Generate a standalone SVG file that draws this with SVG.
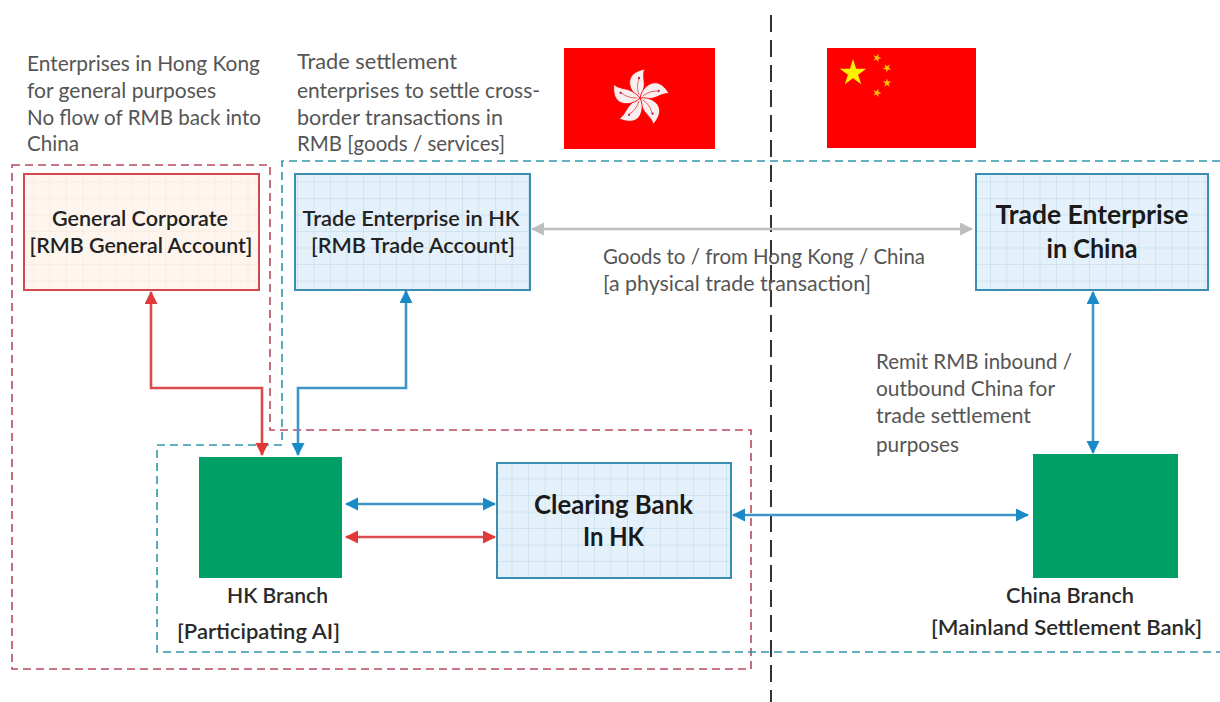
<svg xmlns="http://www.w3.org/2000/svg" width="1220" height="702" viewBox="0 0 1220 702">
<style>
text{font-family:"Lato","Open Sans","Liberation Sans",sans-serif;lengthAdjust:spacingAndGlyphs}
.n{font-size:20.5px;fill:#555}
.b{font-size:20.5px;fill:#2a2a2a;font-weight:600}
.bm{font-size:20.5px;fill:#222;font-weight:600;text-anchor:middle}
.h{font-size:26px;fill:#1a1a1a;font-weight:700;text-anchor:middle}
.dr{fill:none;stroke:#b94a5c;stroke-width:1.6;stroke-dasharray:8 5}
.db{fill:none;stroke:#2f97ad;stroke-width:1.6;stroke-dasharray:8 5}
.cb{fill:none;stroke:#3f96c8;stroke-width:2.6;marker-start:url(#ab);marker-end:url(#ab)}
.cr{fill:none;stroke:#d94b4d;stroke-width:2.6;marker-start:url(#ar);marker-end:url(#ar)}
.cg{fill:none;stroke:#bdbdbd;stroke-width:2.4;marker-start:url(#ag);marker-end:url(#ag)}
.gb{fill:url(#gridB);stroke:#3a8fb0;stroke-width:2}
.green{fill:#009f66}
</style>
<defs>
<pattern id="gridB" width="16.5" height="16.5" patternUnits="userSpaceOnUse">
<rect width="16.5" height="16.5" fill="#e4f1fa"/>
<path d="M0 0H16.5M0 0V16.5" stroke="#b9d9e8" stroke-width="1"/>
</pattern>
<pattern id="gridR" width="16.5" height="16.5" patternUnits="userSpaceOnUse">
<rect width="16.5" height="16.5" fill="#fdf5ee"/>
<path d="M0 0H16.5M0 0V16.5" stroke="#f8e6da" stroke-width="1"/>
</pattern>
<marker id="ab" markerUnits="userSpaceOnUse" markerWidth="14" markerHeight="14" refX="12" refY="6.5" orient="auto-start-reverse"><path d="M0 0L13 6.5L0 13z" fill="#1a8ac6"/></marker>
<marker id="ar" markerUnits="userSpaceOnUse" markerWidth="14" markerHeight="14" refX="12" refY="6.5" orient="auto-start-reverse"><path d="M0 0L13 6.5L0 13z" fill="#e0393a"/></marker>
<marker id="ag" markerUnits="userSpaceOnUse" markerWidth="14" markerHeight="14" refX="12" refY="6.5" orient="auto-start-reverse"><path d="M0 0L13 6.5L0 13z" fill="#bdbdbd"/></marker>
<g id="petal">
<path d="M0 0C-8 -4 -13 -14 -9 -21C-6 -26 0 -28 5 -29C2 -24 5 -17 4 -11C3.500 -6 1.500 -3 0 0z" fill="#fbeeee" stroke="#fe0000" stroke-width="0.8"/>
<path d="M-1 -3C-3 -9 -3 -14 -1 -19" fill="none" stroke="#e03040" stroke-width="0.7"/>
<circle cx="-1" cy="-20" r="1.200" fill="#c03050"/>
</g>
<polygon id="star" points="0,-1 0.225,-0.309 0.951,-0.309 0.363,0.118 0.588,0.809 0,0.382 -0.588,0.809 -0.363,0.118 -0.951,-0.309 -0.225,-0.309"/>
</defs>
<rect width="1220" height="702" fill="#fff"/>
<g id="regions">
<path class="dr" d="M12 165H270V430H751V669H12Z"/>
<path class="db" d="M1220 161H282V445H157V652H1220"/>
<path d="M771 15V702" fill="none" stroke="#333" stroke-width="2" stroke-dasharray="17 8"/>
</g>
<g id="flag-hk">
<rect x="564" y="48" width="151" height="101" fill="#fe0000"/>
<g transform="translate(640 98)">
<use href="#petal"/><use href="#petal" transform="rotate(72)"/><use href="#petal" transform="rotate(144)"/><use href="#petal" transform="rotate(216)"/><use href="#petal" transform="rotate(288)"/>
</g>
</g>
<g id="flag-cn" fill="#fdf000">
<rect x="827" y="48" width="149" height="100" fill="#fe0000"/>
<use href="#star" transform="translate(853 73) scale(14)"/>
<g fill="#fbc400">
<use href="#star" transform="translate(877 58) rotate(20) scale(4.5)"/>
<use href="#star" transform="translate(887 68) rotate(40) scale(4.5)"/>
<use href="#star" transform="translate(887 83) scale(4.5)"/>
<use href="#star" transform="translate(877 93) rotate(20) scale(4.5)"/>
</g>
</g>
<g id="note-general">
<text class="n" x="27" y="71" textLength="233" lengthAdjust="spacingAndGlyphs">Enterprises in Hong Kong</text>
<text class="n" x="27" y="98" textLength="189" lengthAdjust="spacingAndGlyphs">for general purposes</text>
<text class="n" x="27" y="125" textLength="234" lengthAdjust="spacingAndGlyphs">No flow of RMB back into</text>
<text class="n" x="27" y="151" textLength="52" lengthAdjust="spacingAndGlyphs">China</text>
</g>
<g id="note-trade">
<text class="n" x="297" y="69" textLength="160" lengthAdjust="spacingAndGlyphs">Trade settlement</text>
<text class="n" x="297" y="98" textLength="243" lengthAdjust="spacingAndGlyphs">enterprises to settle cross-</text>
<text class="n" x="297" y="125" textLength="206" lengthAdjust="spacingAndGlyphs">border  transactions in</text>
<text class="n" x="297" y="151" textLength="208" lengthAdjust="spacingAndGlyphs">RMB [goods / services]</text>
</g>
<g id="note-goods">
<text class="n" x="603" y="264" textLength="322" lengthAdjust="spacingAndGlyphs">Goods to / from Hong Kong / China</text>
<text class="n" x="603" y="291" textLength="268" lengthAdjust="spacingAndGlyphs">[a physical trade transaction]</text>
</g>
<g id="note-remit">
<text class="n" x="876" y="369" textLength="196" lengthAdjust="spacingAndGlyphs">Remit RMB inbound /</text>
<text class="n" x="876" y="396" textLength="179" lengthAdjust="spacingAndGlyphs">outbound China for</text>
<text class="n" x="876" y="423" textLength="155" lengthAdjust="spacingAndGlyphs">trade settlement</text>
<text class="n" x="876" y="452" textLength="83" lengthAdjust="spacingAndGlyphs">purposes</text>
</g>
<g id="general-corporate">
<rect x="24" y="174" width="235" height="116" fill="url(#gridR)" stroke="#d2464d" stroke-width="2"/>
<text class="bm" x="140" y="226" textLength="176" lengthAdjust="spacingAndGlyphs">General Corporate</text>
<text class="bm" x="141" y="253" textLength="223" lengthAdjust="spacingAndGlyphs">[RMB General Account]</text>
</g>
<g id="trade-hk">
<rect class="gb" x="295" y="174" width="235" height="116"/>
<text class="bm" x="411" y="226" textLength="217" lengthAdjust="spacingAndGlyphs">Trade Enterprise in HK</text>
<text class="bm" x="413" y="253" textLength="204" lengthAdjust="spacingAndGlyphs">[RMB Trade Account]</text>
</g>
<g id="trade-china">
<rect class="gb" x="976" y="174" width="232" height="116"/>
<text class="h" x="1092" y="224" textLength="193" lengthAdjust="spacingAndGlyphs">Trade Enterprise</text>
<text class="h" x="1092" y="258" textLength="91" lengthAdjust="spacingAndGlyphs">in China</text>
</g>
<g id="hk-branch">
<rect class="green" x="199" y="457" width="143" height="121"/>
<text class="b" x="227" y="603" textLength="101" lengthAdjust="spacingAndGlyphs">HK Branch</text>
<text class="b" x="177" y="639" textLength="163" lengthAdjust="spacingAndGlyphs">[Participating AI]</text>
</g>
<g id="clearing-bank">
<rect class="gb" x="497" y="463" width="234" height="115"/>
<text class="h" x="613.500" y="514" textLength="159" lengthAdjust="spacingAndGlyphs">Clearing Bank</text>
<text class="h" x="613.500" y="546" textLength="61" lengthAdjust="spacingAndGlyphs">In HK</text>
</g>
<g id="china-branch">
<rect class="green" x="1033" y="454" width="145" height="124"/>
<text class="b" x="1006" y="603" textLength="128" lengthAdjust="spacingAndGlyphs">China Branch</text>
<text class="b" x="931" y="635" textLength="271" lengthAdjust="spacingAndGlyphs">[Mainland Settlement Bank]</text>
</g>
<g id="connectors">
<path class="cr" d="M151 292V388H262V455"/>
<path class="cb" d="M406 291V388H298V455"/>
<path class="cb" d="M346 504H495"/>
<path class="cr" d="M346 537H495"/>
<path class="cb" d="M733 515H1028"/>
<path class="cb" d="M1093 292V453"/>
<path class="cg" d="M532 229H972"/>
</g>
</svg>
